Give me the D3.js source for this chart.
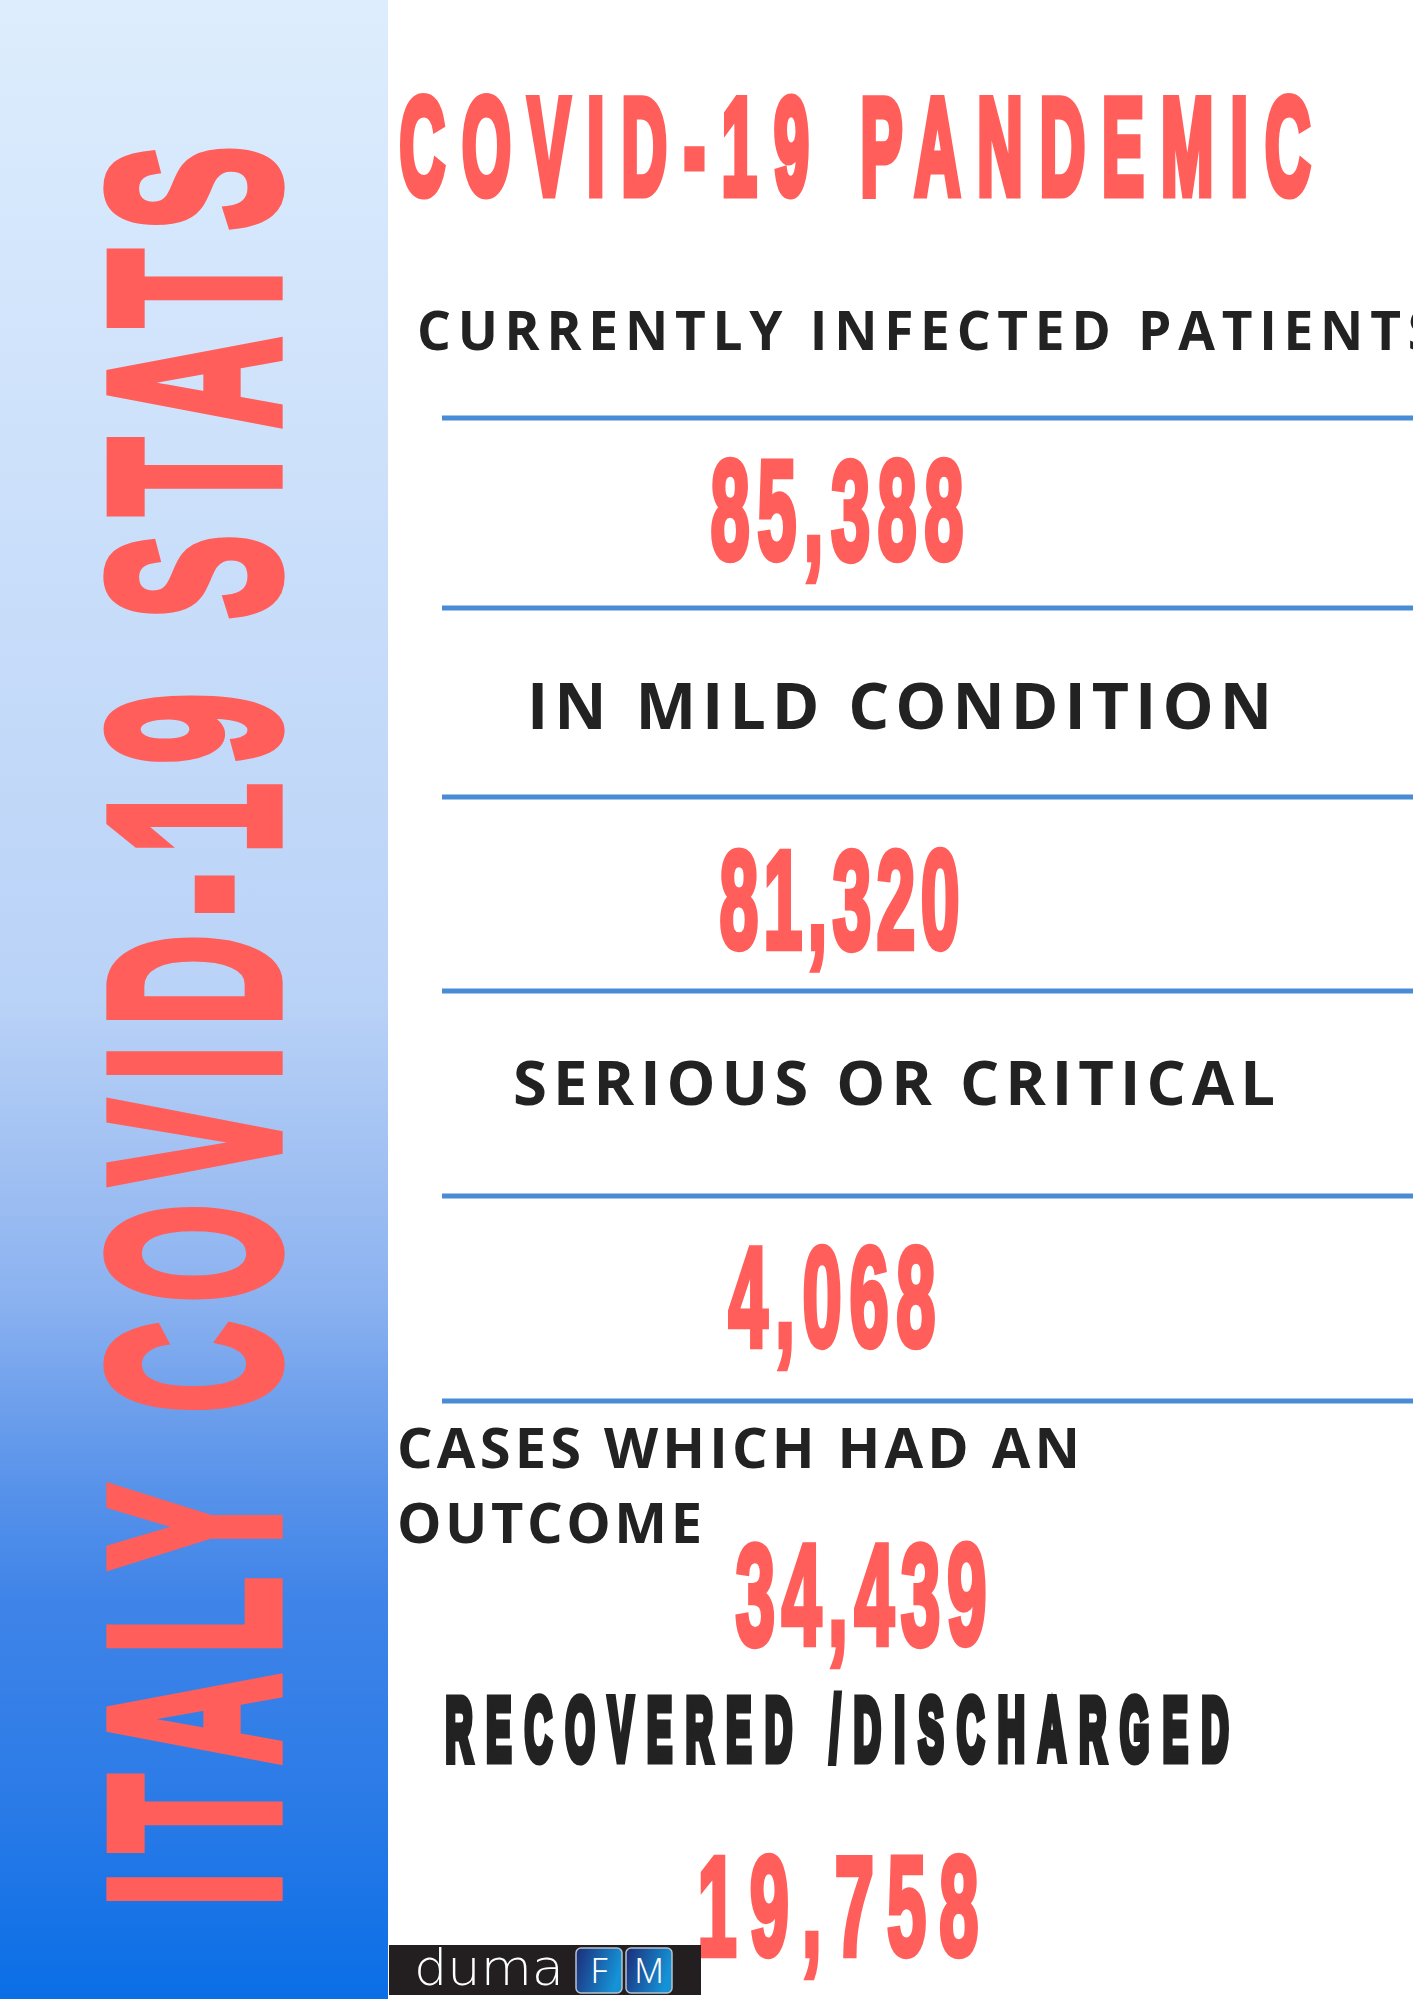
<!DOCTYPE html>
<html lang="en">
<head>
<meta charset="UTF-8">
<title>Italy COVID-19 Stats</title>
<script src="https://d3js.org/d3.v7.min.js"></script>
<style>
  body { margin: 0; background: #fff; }
  svg { display: block; }
</style>
</head>
<body>
<div id="chart"></div>
<script>
const width = 1413, height = 1999;

// ---- data ----
const sideTitle = "ITALY COVID-19 STATS";
const headline = "COVID-19 PANDEMIC";
const statLabels = [
  ["CURRENTLY INFECTED PATIENTS"],
  ["IN MILD CONDITION"],
  ["SERIOUS OR CRITICAL"],
  ["CASES WHICH HAD AN", "OUTCOME"],
  ["RECOVERED /DISCHARGED"]
];
const statValues = [85388, 81320, 4068, 34439, 19758];
const brand = ["duma", "F", "M"];

// ---- layout (pixels) ----
const red = "#ff5e5b", ink = "#222222", ruleColor = "#4a8bd5";
const narrow = "'Liberation Sans Narrow', 'Liberation Sans', sans-serif";
const open = "'Open Sans', 'Noto Sans', sans-serif";
const labelLayout = [
  [{x: 417, w: 1020, top: 312, base: 350}],
  [{x: 527, w: 745, top: 683, base: 729}],
  [{x: 513, w: 762, top: 1061, base: 1105}],
  [{x: 397, w: 683, top: 1428, base: 1468}, {x: 397, w: 305, top: 1503, base: 1543}],
  [{x: 442, w: 790, top: 1692, base: 1763, condensed: true}]
];
const valueLayout = [
  {x: 708, w: 258, top: 455, base: 561},
  {x: 717, w: 245, top: 845, base: 950},
  {x: 726, w: 212, top: 1242, base: 1348},
  {x: 733, w: 256, top: 1539, base: 1646},
  {x: 695, w: 286, top: 1851, base: 1957}
];
const ruleY = [418, 608, 797, 991, 1196, 1401];
const panelW = 388;

const fmt = d3.format(",");

const svg = d3.select("#chart").append("svg")
  .attr("width", width)
  .attr("height", height);

const defs = svg.append("defs");
const grad = defs.append("linearGradient").attr("id", "panel")
  .attr("x1", 0).attr("y1", 0).attr("x2", 0).attr("y2", 1);
[[0, "#ddedfd"], [0.45, "#bdd5f8"], [0.5, "#b9d2f7"], [0.575, "#a3c2f3"], [0.65, "#8bb2f0"],
 [0.7, "#6fa0ec"], [0.75, "#5591ea"], [0.8, "#3f84e8"], [0.9, "#2b7be7"], [1, "#0a6ee6"]]
  .forEach(([o, c]) => grad.append("stop").attr("offset", o).attr("stop-color", c));

const tile = defs.append("linearGradient").attr("id", "tile")
  .attr("x1", 0).attr("y1", 0).attr("x2", 1).attr("y2", 0.3);
tile.append("stop").attr("offset", 0).attr("stop-color", "#1d2c78");
tile.append("stop").attr("offset", 1).attr("stop-color", "#1592d6");

// fit a line of text into a box: left x, width, cap top, baseline
function fitText(g, txt, o) {
  const s = o.stroke || 0;
  const sx = o.sx || 1;
  const size = (o.base - o.top - s) / o.capRatio;
  const t = g.append("text")
    .attr("transform", `translate(${o.x + s / 2},${o.base - s / 2}) scale(${sx},1)`)
    .attr("font-family", o.family)
    .attr("font-weight", 700)
    .attr("font-size", size)
    .attr("fill", o.fill)
    .attr("textLength", (o.w - s) / sx)
    .attr("lengthAdjust", "spacing")
    .text(txt);
  if (s) {
    t.attr("stroke", o.fill).attr("stroke-width", s)
      .attr("stroke-linejoin", "miter")
      .attr("vector-effect", "non-scaling-stroke");
  }
  return t;
}

// left panel
svg.append("rect").attr("width", panelW).attr("height", height).attr("fill", "url(#panel)");
const side = svg.append("g").attr("transform", "translate(281,1911) rotate(-90)");
fitText(side, sideTitle, {x: 0, w: 1769, top: -181, base: 0, family: narrow,
  capRatio: 0.716, sx: 0.52, stroke: 9, fill: red});

// headline
fitText(svg, headline, {x: 396, w: 918, top: 92, base: 197, family: narrow,
  capRatio: 0.716, sx: 0.46, stroke: 7, fill: red});

// separator rules
svg.selectAll("line.rule").data(ruleY).join("line")
  .attr("class", "rule")
  .attr("x1", 442).attr("x2", width)
  .attr("y1", d => d).attr("y2", d => d)
  .attr("stroke", ruleColor).attr("stroke-width", 5);

// labels
statLabels.forEach((lines, i) => {
  lines.forEach((txt, j) => {
    const b = labelLayout[i][j];
    if (b.condensed) {
      fitText(svg, txt, Object.assign({family: narrow, capRatio: 0.716, sx: 0.42, stroke: 7, fill: ink}, b));
    } else {
      fitText(svg, txt, Object.assign({family: open, capRatio: 0.714, fill: ink}, b));
    }
  });
});

// values
statValues.forEach((v, i) => {
  fitText(svg, fmt(v), Object.assign({family: narrow, capRatio: 0.716, sx: 0.5, stroke: 5, fill: red}, valueLayout[i]));
});

// logo
const logo = svg.append("g");
logo.append("rect").attr("x", 389).attr("y", 1945).attr("width", 312).attr("height", 50).attr("fill", "#231f20");
logo.append("text").attr("x", 414).attr("y", 1985)
  .attr("font-family", "'DejaVu Sans', sans-serif").attr("font-weight", 200)
  .attr("font-size", 50)
  .attr("fill", "#fff").attr("textLength", 150).attr("lengthAdjust", "spacingAndGlyphs")
  .text(brand[0]);
brand.slice(1).forEach((b, i) => {
  const x0 = 576 + i * 50;
  logo.append("rect").attr("x", x0).attr("y", 1948).attr("width", 46).attr("height", 45)
    .attr("rx", 5).attr("fill", "url(#tile)").attr("stroke", "#b9c2cc").attr("stroke-width", 1.5);
  logo.append("text").attr("x", x0 + 23).attr("y", 1983).attr("text-anchor", "middle")
    .attr("font-family", "'Noto Sans', sans-serif").attr("font-size", 34).attr("font-weight", 300)
    .attr("fill", "#fff").text(b);
});
</script>
</body>
</html>
